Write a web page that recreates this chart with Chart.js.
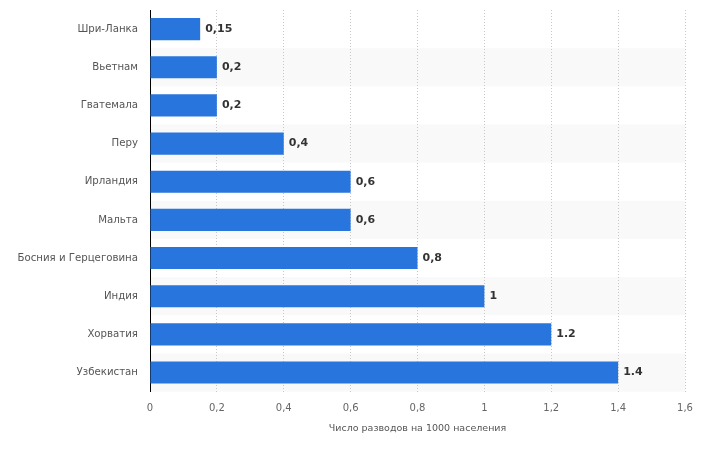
<!DOCTYPE html>
<html>
<head>
<meta charset="utf-8">
<script src="https://cdn.jsdelivr.net/npm/chart.js@4/dist/chart.umd.min.js"></script>
<style>
  html, body { margin: 0; padding: 0; background: #fff; }
  #wrap { width: 705px; height: 450px; }
</style>
</head>
<body>
<div id="wrap"><canvas id="divorceChart"></canvas></div>
<script>
const countries = ["Шри-Ланка", "Вьетнам", "Гватемала", "Перу", "Ирландия", "Мальта", "Босния и Герцеговина", "Индия", "Хорватия", "Узбекистан"];
const rates = [0.15, 0.2, 0.2, 0.4, 0.6, 0.6, 0.8, 1, 1.2, 1.4];
const rateLabels = ["0,15", "0,2", "0,2", "0,4", "0,6", "0,6", "0,8", "1", "1.2", "1.4"];
const xTicks = ["0", "0,2", "0,4", "0,6", "0,8", "1", "1,2", "1,4", "1,6"];

// light stripes behind every second row
const stripes = {
    id: 'stripes',
    beforeDraw(chart) {
        const ctx = chart.ctx;
        const area = chart.chartArea;
        const y = chart.scales.y;
        const step = (area.bottom - area.top) / countries.length;
        ctx.save();
        ctx.fillStyle = '#f9f9f9';
        countries.forEach((c, i) => {
            if (i % 2 === 1) {
                const mid = y.getPixelForValue(i);
                ctx.fillRect(area.left, mid - step / 2, area.right - area.left, step);
            }
        });
        ctx.restore();
    }
};

// numbers at the end of the bars
const valueLabels = {
    id: 'valueLabels',
    afterDatasetsDraw(chart) {
        const ctx = chart.ctx;
        const meta = chart.getDatasetMeta(0);
        ctx.save();
        ctx.font = 'bold 11px "DejaVu Sans", sans-serif';
        ctx.fillStyle = '#333';
        ctx.textBaseline = 'middle';
        meta.data.forEach((bar, i) => {
            ctx.fillText(rateLabels[i], bar.x + 5, bar.y);
        });
        ctx.restore();
    }
};

function drawChart() {
    const ctx = document.getElementById('divorceChart').getContext('2d');
    const chart = new Chart(ctx, {
        type: 'bar',
        data: {
            labels: countries,
            datasets: [{
                data: rates,
                backgroundColor: '#2876dd',
                categoryPercentage: 0.58,
                barPercentage: 1
            }]
        },
        options: {
            indexAxis: 'y',
            responsive: true,
            maintainAspectRatio: false,
            animation: false,
            layout: { padding: { top: 10, right: 20, bottom: 12, left: 0 } },
            plugins: {
                legend: { display: false },
                tooltip: { enabled: false }
            },
            scales: {
                x: {
                    min: 0,
                    max: 1.6,
                    ticks: {
                        stepSize: 0.2,
                        color: '#666',
                        font: { size: 10, family: '"DejaVu Sans", sans-serif' },
                        padding: 11,
                        callback: (v, i) => xTicks[i]
                    },
                    grid: { color: '#c8c8c8', drawTicks: false, lineWidth: 1 },
                    border: { display: false, dash: [1, 2] },
                    title: {
                        display: true,
                        text: 'Число разводов на 1000 населения',
                        color: '#555',
                        font: { size: 9.5, family: '"DejaVu Sans", sans-serif' },
                        padding: { top: -3, bottom: 4 }
                    }
                },
                y: {
                    grid: { display: false },
                    border: { display: true, color: '#000', width: 1 },
                    ticks: {
                        color: '#555',
                        font: { size: 10.2, family: '"DejaVu Sans", sans-serif' },
                        padding: 4
                    },
                    afterFit(scale) {
                        scale.width = 150;
                        scale.paddingTop = 0;
                        scale.paddingBottom = 0;
                    }
                }
            }
        },
        plugins: [stripes, valueLabels]
    });
    window.divorceChart = chart;
}

drawChart();
</script>
</body>
</html>
